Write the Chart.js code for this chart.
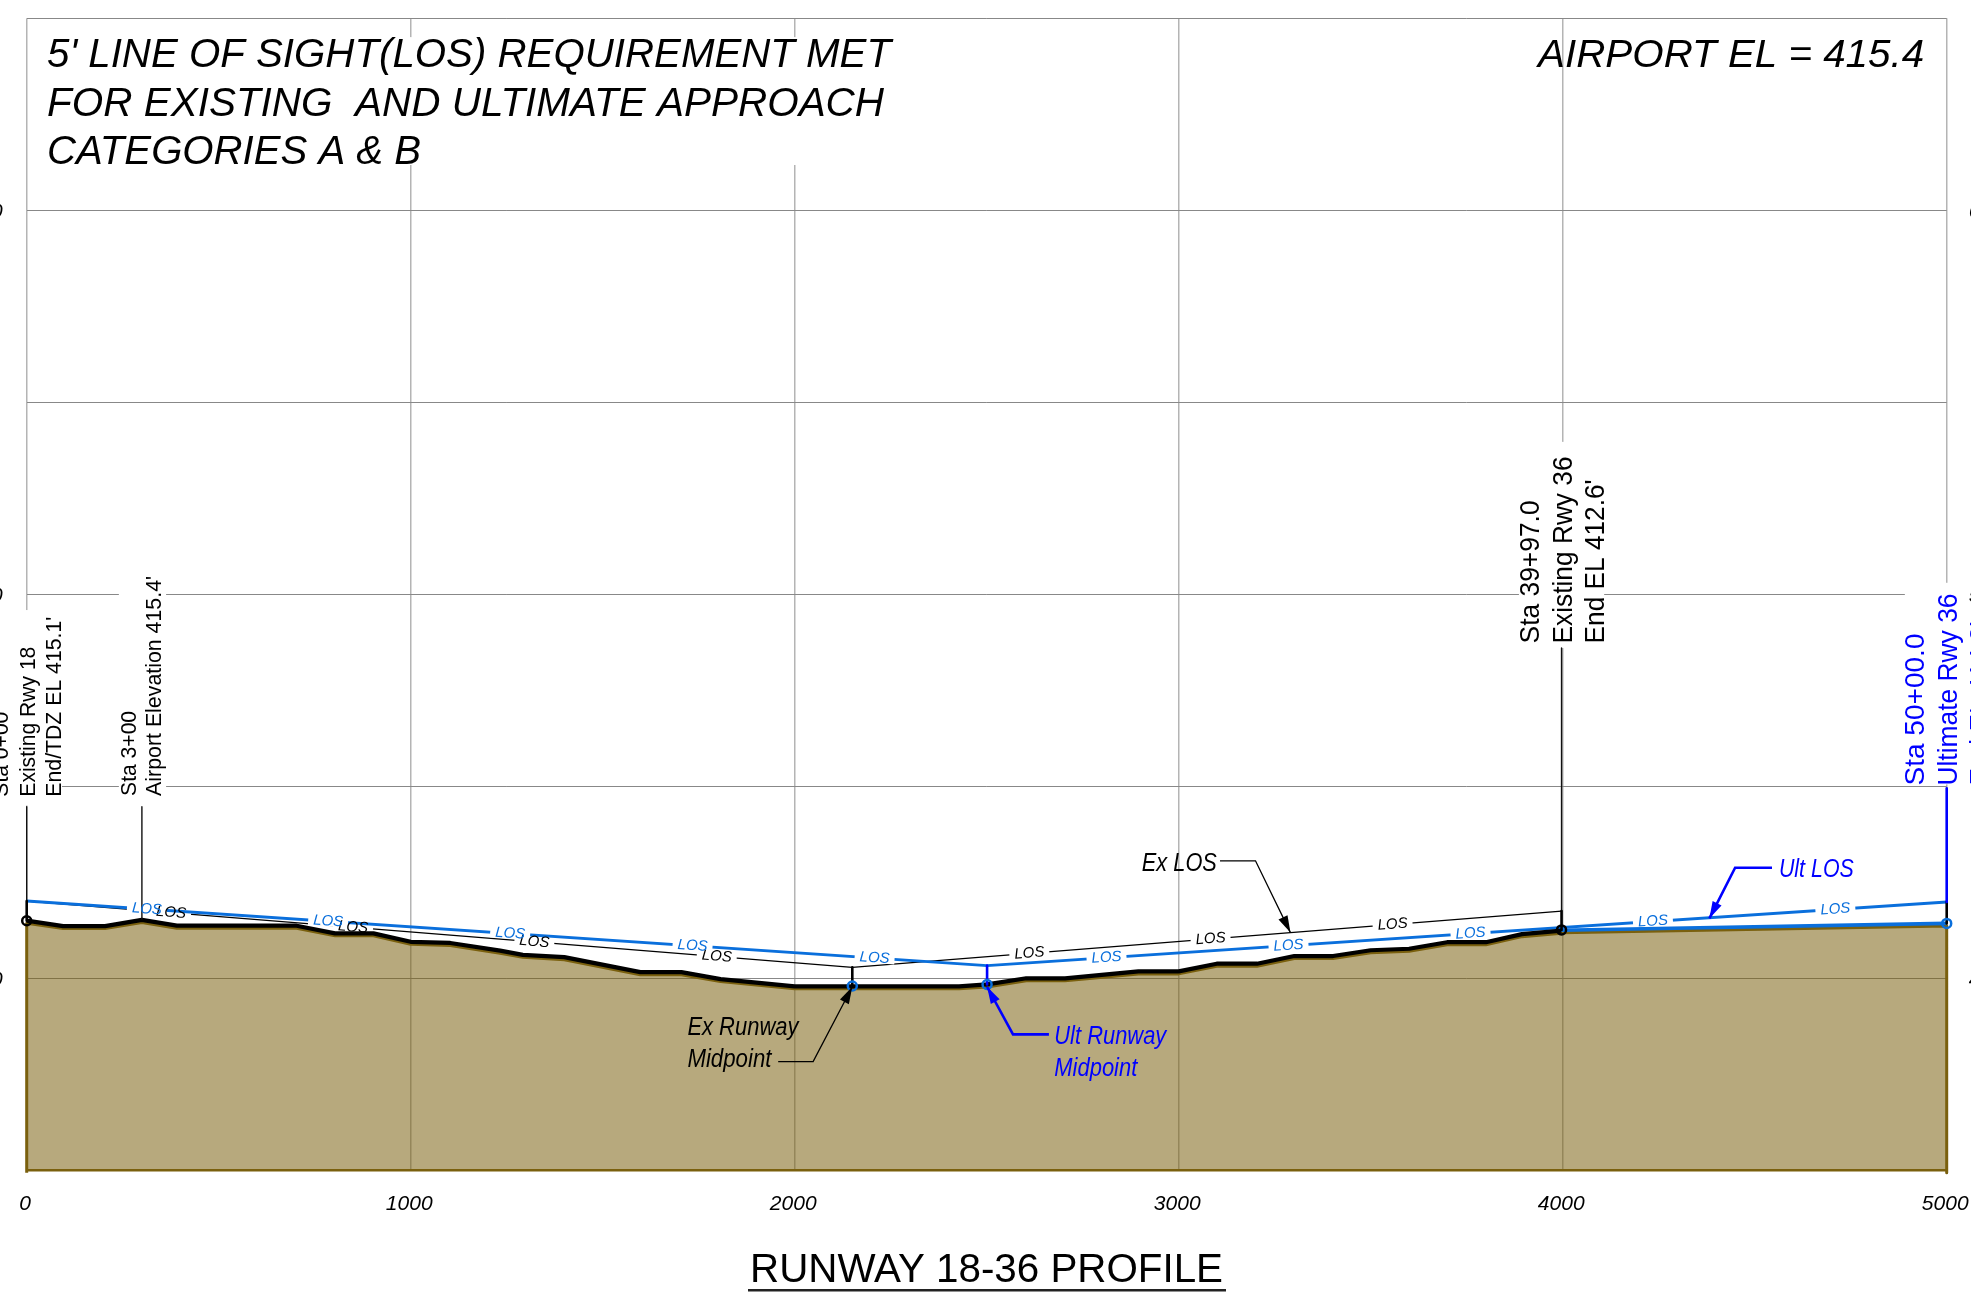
<!DOCTYPE html>
<html lang="en">
<head>
    <meta charset="UTF-8">
    <title>Runway 18-36 Profile</title>
    <script src="https://cdn.jsdelivr.net/npm/chart.js"></script>
    <style>
        html, body { margin: 0; padding: 0; background: #fff; overflow: hidden; }
        canvas { display: block; }
    </style>
</head>
<body>
    <canvas id="profile" width="1971" height="1292"></canvas>
    <script>
        // Profile data: station in feet, elevation in feet
        const groundStations = [0, 95, 204, 300, 391, 703, 803, 903, 1000, 1103, 1233, 1292, 1400, 1598, 1705, 1807, 2000, 2428, 2501, 2603, 2704, 2895, 3000, 3099, 3204, 3301, 3402, 3500, 3600, 3699, 3800, 3894, 3997];
        const groundElevations = [415.0, 413.6, 413.6, 415.2, 413.7, 413.7, 411.7, 411.7, 409.5, 409.2, 407.2, 406.1, 405.5, 401.6, 401.6, 399.8, 397.9, 397.9, 398.4, 400.0, 400.0, 401.8, 401.8, 403.8, 403.8, 405.8, 405.8, 407.3, 407.7, 409.4, 409.4, 411.5, 412.4];
        const ultGroundStations = [3997, 5000];
        const ultGroundElevations = [412.5, 414.3];
        const exLosStations = [0, 2150, 3997];
        const exLosElevations = [420.1, 402.85, 417.5];
        const ultLosStations = [0, 2501, 5000];
        const ultLosElevations = [420.1, 403.3, 419.9];

        const baseElevation = 350;
        const xTicks = [0, 1000, 2000, 3000, 4000, 5000];
        const yTickLabels = [400, 500, 600];

        const exLosLabelStations = [376, 850, 1322, 1797, 2611, 3083, 3557];
        const ultLosLabelStations = [313, 785, 1259, 1734, 2208, 2812, 3286, 3760, 4235, 4710];

        // [station, top elevation, bottom elevation]
        const thinLeaders = [[0, 444.7, 420.1], [300, 444.7, 415.4], [3997, 486, 417.5]];
        const thickLeaders = [[0, 420.1, 415.0], [3997, 417.5, 412.6], [2150, 402.85, 398], [5000, 419.9, 414.3]];
        const blueLeaders = [[2501, 403.3, 398.4], [5000, 449.5, 419.9]];

        const blackMarkers = [[0, 415.0], [3997, 412.6]];
        const blueMarkers = [[2150, 398], [2501, 398.4], [5000, 414.3]];

        const BLACK = "#000000";
        const LOS_BLUE = "#0a6fdc";
        const NOTE_BLUE = "#0000ff";
        const FONT = "'Liberation Sans', Arial, sans-serif";

        // Masks where the drawing blanks the grid behind text: [x1, x2, el1, el2]
        const gridMasks = [
            [34, 2274, 645.1, 611.8],
            [-18, 92, 495.9, 445.0],
            [240, 363, 502.4, 445.0],
            [3886, 4108, 539.7, 486],
            [4891, 5008, 503, 450.5]
        ];

        // Text notes: [text, station, elevation, width in px]
        const titleNotes = [
            ["5' LINE OF SIGHT(LOS) REQUIREMENT MET", 53, 637.3, 844],
            ["FOR EXISTING  AND ULTIMATE APPROACH", 53, 624.6, 837],
            ["CATEGORIES A & B", 53, 612.1, 374]
        ];
        const airportNote = [["AIRPORT EL = 415.4", 3936, 637.3, 386]];
        const blackNotes = [
            ["Ex LOS", 2904, 428.0, 75],
            ["Ex Runway", 1720.6, 385.2, 111],
            ["Midpoint", 1720.6, 376.9, 84]
        ];
        const blueNotes = [
            ["Ult LOS", 4563, 426.5, 75],
            ["Ult Runway", 2676, 382.9, 112],
            ["Midpoint", 2676, 374.6, 83]
        ];
        const smallRotated = [
            ["Sta 0+00", -48.7, 447.3, 85],
            ["Existing Rwy 18", 21.6, 447.3, 150],
            ["End/TDZ EL 415.1'", 89.3, 447.3, 180],
            ["Sta 3+00", 283.9, 447.5, 85],
            ["Airport Elevation 415.4'", 349.7, 447.5, 220]
        ];
        const largeRotated = [
            ["Sta 39+97.0", 3939, 487.2, 143],
            ["Existing Rwy 36", 4023, 487.2, 187],
            ["End EL 412.6'", 4108, 487.2, 164]
        ];
        const blueRotated = [
            ["Sta 50+00.0", 4941.7, 450.2, 152],
            ["Ultimate Rwy 36", 5026, 450.2, 192],
            ["End EL 414.3'", 5110, 450.2, 164]
        ];

        // Arrow callouts, last point is the tip: [station, elevation]
        const exLosArrow = [[3107.6, 430.6], [3200, 430.6], [3291, 411.9]];
        const exMidArrow = [[1957, 378.3], [2048, 378.3], [2150, 397.8]];
        const ultLosArrow = [[4545, 428.8], [4449, 428.8], [4382, 415.6]];
        const ultMidArrow = [[2662, 385.4], [2568.5, 385.4], [2501, 397.8]];

        function pairs(xs, ys) {
            return xs.map((x, i) => ({ x: x, y: ys[i] }));
        }

        function lineSet(data, color, width, order, id) {
            return {
                id: id,
                data: data,
                borderColor: color,
                borderWidth: width,
                pointRadius: 0,
                fill: false,
                tension: 0,
                clip: false,
                order: order,
                borderJoinStyle: "round",
                borderCapStyle: "butt"
            };
        }

        function markerSet(points, color, order) {
            return {
                data: points.map(p => ({ x: p[0], y: p[1] })),
                showLine: false,
                pointRadius: 4.5,
                pointBorderWidth: 2.5,
                pointBorderColor: color,
                pointBackgroundColor: "rgba(0,0,0,0)",
                clip: false,
                order: order
            };
        }

        // terrain is a polygon down to the base elevation, brown edge all round
        const terrainData = [{ x: 0, y: baseElevation }]
            .concat(pairs(groundStations, groundElevations))
            .concat(pairs(ultGroundStations, ultGroundElevations))
            .concat([{ x: 5000, y: baseElevation }]);

        const terrain = lineSet(terrainData, "rgb(122,96,14)", 3, 30, "terrain");
        terrain.fill = "start";
        terrain.backgroundColor = "rgba(122,96,14,0.54)";

        const datasets = [
            terrain,
            lineSet(pairs([0, 5000], [baseElevation, baseElevation]), "rgb(122,96,14)", 2.5, 29),
            lineSet(pairs(exLosStations, exLosElevations), BLACK, 1.3, 20, "exLos"),
            lineSet(pairs(ultLosStations, ultLosElevations), LOS_BLUE, 3, 19, "ultLos"),
            lineSet(pairs(groundStations, groundElevations), BLACK, 4.2, 10),
            lineSet(pairs(ultGroundStations, ultGroundElevations), LOS_BLUE, 3.6, 9)
        ];
        thinLeaders.forEach(l => datasets.push(lineSet(pairs([l[0], l[0]], [l[1], l[2]]), "#111111", 1.4, 8)));
        thickLeaders.forEach(l => datasets.push(lineSet(pairs([l[0], l[0]], [l[1], l[2]]), BLACK, 2.6, 7)));
        blueLeaders.forEach(l => datasets.push(lineSet(pairs([l[0], l[0]], [l[1], l[2]]), NOTE_BLUE, 2.6, 6)));
        datasets.push(markerSet(blackMarkers, BLACK, 2));
        datasets.push(markerSet(blueMarkers, LOS_BLUE, 1));

        // position on a polyline and its angle on screen
        function onLine(chart, xs, ys, station) {
            let i = 0;
            while (i < xs.length - 2 && station > xs[i + 1]) i++;
            const t = (station - xs[i]) / (xs[i + 1] - xs[i]);
            const sx = chart.scales.x, sy = chart.scales.y;
            const x0 = sx.getPixelForValue(xs[i]), y0 = sy.getPixelForValue(ys[i]);
            const x1 = sx.getPixelForValue(xs[i + 1]), y1 = sy.getPixelForValue(ys[i + 1]);
            return { x: x0 + (x1 - x0) * t, y: y0 + (y1 - y0) * t, angle: Math.atan2(y1 - y0, x1 - x0) };
        }

        function maskLabels(chart, xs, ys, stations) {
            const ctx = chart.ctx;
            stations.forEach(s => {
                const p = onLine(chart, xs, ys, s);
                ctx.save();
                ctx.translate(p.x, p.y);
                ctx.rotate(p.angle);
                ctx.fillStyle = "#ffffff";
                ctx.fillRect(-20, -5, 40, 10);
                ctx.restore();
            });
        }

        function drawLabels(chart, xs, ys, stations, color) {
            const ctx = chart.ctx;
            stations.forEach(s => {
                const p = onLine(chart, xs, ys, s);
                ctx.save();
                ctx.translate(p.x, p.y);
                ctx.rotate(p.angle);
                ctx.font = "italic 15px " + FONT;
                ctx.fillStyle = color;
                ctx.textAlign = "center";
                ctx.textBaseline = "middle";
                ctx.fillText("LOS", 0, 0);
                ctx.restore();
            });
        }

        // text squeezed to the width it has in the drawing
        function fitText(ctx, text, x, y, width, font, color, angle) {
            ctx.save();
            ctx.translate(x, y);
            if (angle) ctx.rotate(angle);
            ctx.font = font;
            ctx.fillStyle = color;
            ctx.textAlign = "left";
            ctx.textBaseline = "alphabetic";
            ctx.scale(width / ctx.measureText(text).width, 1);
            ctx.fillText(text, 0, 0);
            ctx.restore();
        }

        function drawNotes(chart, notes, font, color, angle) {
            const sx = chart.scales.x, sy = chart.scales.y;
            notes.forEach(n => {
                fitText(chart.ctx, n[0], sx.getPixelForValue(n[1]), sy.getPixelForValue(n[2]), n[3], font, color, angle);
            });
        }

        function drawArrow(chart, points, color, width, headLen, headHalf) {
            const ctx = chart.ctx;
            const sx = chart.scales.x, sy = chart.scales.y;
            const pts = points.map(p => [sx.getPixelForValue(p[0]), sy.getPixelForValue(p[1])]);
            ctx.save();
            ctx.strokeStyle = color;
            ctx.fillStyle = color;
            ctx.lineWidth = width;
            ctx.beginPath();
            pts.forEach((p, i) => i ? ctx.lineTo(p[0], p[1]) : ctx.moveTo(p[0], p[1]));
            ctx.stroke();
            const tip = pts[pts.length - 1], prev = pts[pts.length - 2];
            const a = Math.atan2(tip[1] - prev[1], tip[0] - prev[0]);
            ctx.translate(tip[0], tip[1]);
            ctx.rotate(a);
            ctx.beginPath();
            ctx.moveTo(0, 0);
            ctx.lineTo(-headLen, -headHalf);
            ctx.lineTo(-headLen, headHalf);
            ctx.closePath();
            ctx.fill();
            ctx.restore();
        }

        const profilePlugin = {
            id: "profilePlugin",
            beforeDatasetsDraw(chart) {
                const ctx = chart.ctx, sx = chart.scales.x, sy = chart.scales.y;
                ctx.save();
                ctx.fillStyle = "#ffffff";
                gridMasks.forEach(m => {
                    const x = sx.getPixelForValue(m[0]), y = sy.getPixelForValue(m[2]);
                    ctx.fillRect(x, y, sx.getPixelForValue(m[1]) - x, sy.getPixelForValue(m[3]) - y);
                });
                ctx.restore();
            },
            beforeDatasetDraw(chart, args) {
                // brown edge of the ground sits just under the black line
                if (chart.data.datasets[args.index].id === "terrain") {
                    chart.ctx.save();
                    chart.ctx.translate(0, 2.5);
                }
            },
            afterDatasetDraw(chart, args) {
                const id = chart.data.datasets[args.index].id;
                if (id === "terrain") chart.ctx.restore();
                if (id === "exLos") maskLabels(chart, exLosStations, exLosElevations, exLosLabelStations);
                if (id === "ultLos") maskLabels(chart, ultLosStations, ultLosElevations, ultLosLabelStations);
            },
            afterDatasetsDraw(chart) {
                const ctx = chart.ctx;
                drawLabels(chart, exLosStations, exLosElevations, exLosLabelStations, "#000000");
                drawLabels(chart, ultLosStations, ultLosElevations, ultLosLabelStations, LOS_BLUE);

                drawArrow(chart, exLosArrow, BLACK, 1.3, 17, 5);
                drawArrow(chart, exMidArrow, BLACK, 1.3, 17, 5);
                drawArrow(chart, ultLosArrow, NOTE_BLUE, 2.6, 17, 5);
                drawArrow(chart, ultMidArrow, NOTE_BLUE, 2.6, 17, 5);

                drawNotes(chart, titleNotes, "italic 41px " + FONT, BLACK);
                drawNotes(chart, airportNote, "italic 39px " + FONT, BLACK);
                drawNotes(chart, blackNotes, "italic 25px " + FONT, BLACK);
                drawNotes(chart, blueNotes, "italic 25px " + FONT, NOTE_BLUE);
                drawNotes(chart, smallRotated, "22px " + FONT, BLACK, -Math.PI / 2);
                drawNotes(chart, largeRotated, "28px " + FONT, BLACK, -Math.PI / 2);
                drawNotes(chart, blueRotated, "28px " + FONT, NOTE_BLUE, -Math.PI / 2);

                // sheet title with its underline
                fitText(ctx, "RUNWAY 18-36 PROFILE", 750, 1282, 473, "40px " + FONT, BLACK);
                ctx.save();
                ctx.fillStyle = "#222222";
                ctx.fillRect(748, 1289, 478, 2.5);
                ctx.restore();
            }
        };

        function yLabel(value) {
            return yTickLabels.includes(value) ? String(value) : "";
        }

        const yTickFont = { family: FONT, size: 21, style: "italic" };

        function fixY(scale, width) {
            scale.width = width;
            scale.paddingTop = 0;
            scale.paddingBottom = 0;
        }

        new Chart(document.getElementById("profile").getContext("2d"), {
            type: "line",
            data: { datasets: datasets },
            plugins: [profilePlugin],
            options: {
                responsive: false,
                animation: false,
                events: [],
                layout: { padding: { top: 18.3, left: 0, right: 0, bottom: 0 } },
                plugins: { legend: { display: false }, tooltip: { enabled: false }, title: { display: false } },
                scales: {
                    x: {
                        type: "linear",
                        min: 0,
                        max: 5000,
                        afterBuildTicks: scale => { scale.ticks = xTicks.map(v => ({ value: v })); },
                        afterFit: scale => {
                            scale.height = 121.7;
                            scale.paddingLeft = 0;
                            scale.paddingRight = 0;
                        },
                        grid: { color: "#b4b4b4", lineWidth: 1.5, drawTicks: false },
                        border: { display: false },
                        ticks: {
                            color: BLACK,
                            padding: 21,
                            labelOffset: -1.5,
                            maxRotation: 0,
                            autoSkip: false,
                            font: { family: FONT, size: 21, style: "italic" },
                            callback: value => String(value)
                        }
                    },
                    y: {
                        min: baseElevation,
                        max: 650,
                        afterFit: scale => fixY(scale, 26.7),
                        grid: { color: "#888888", lineWidth: 1, drawTicks: false },
                        border: { display: false },
                        ticks: { stepSize: 50, color: BLACK, padding: 24, labelOffset: 2, font: yTickFont, callback: yLabel }
                    },
                    y2: {
                        position: "right",
                        min: baseElevation,
                        max: 650,
                        afterFit: scale => fixY(scale, 24.3),
                        grid: { display: false, drawTicks: false },
                        border: { display: false },
                        ticks: { stepSize: 50, color: BLACK, padding: 22, labelOffset: 2, font: yTickFont, callback: yLabel }
                    }
                }
            }
        });
    </script>
</body>
</html>
